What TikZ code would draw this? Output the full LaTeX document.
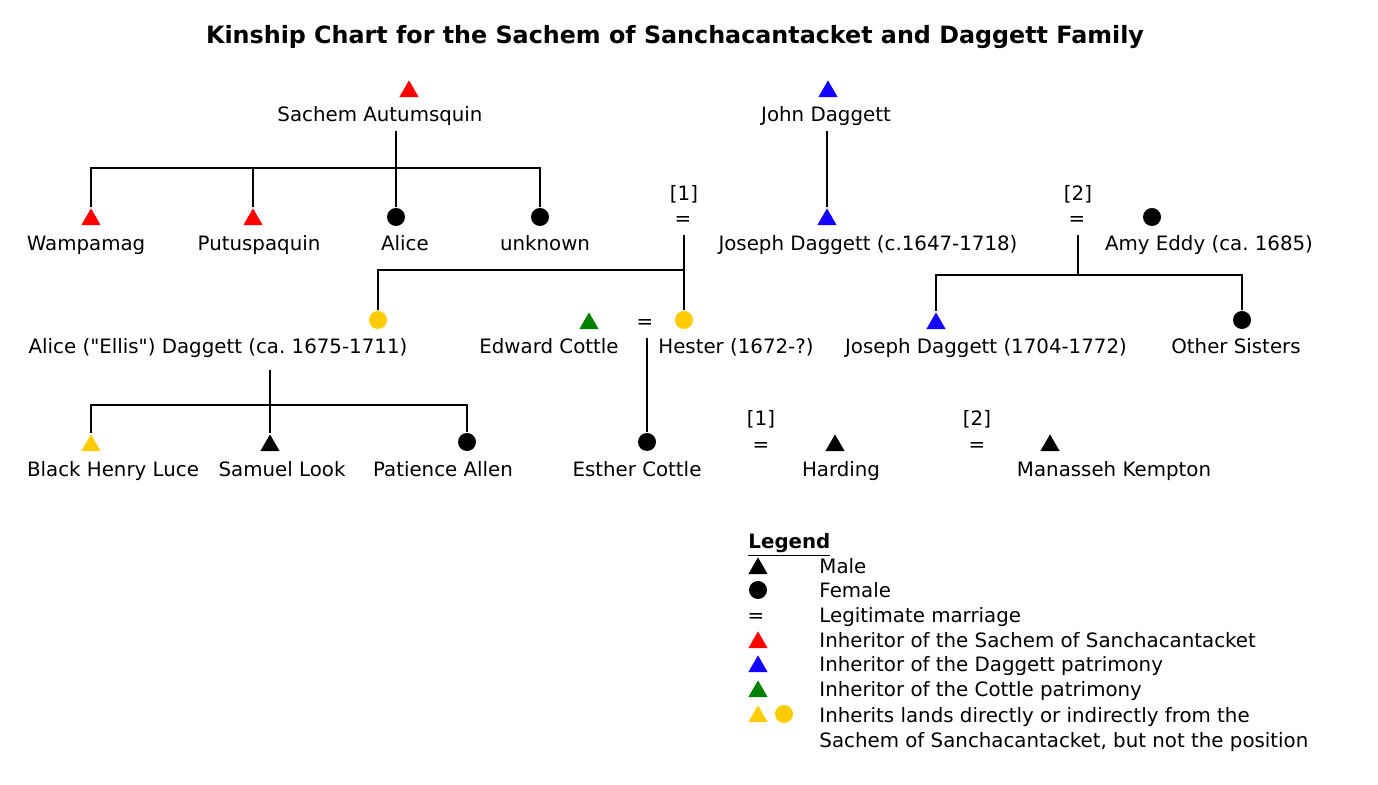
\documentclass[tikz,border=0pt]{standalone}
\usepackage{fontspec}
\newfontfamily\chartfont{DejaVu Sans}
\usetikzlibrary{shapes.geometric}
\definecolor{sachemred}{RGB}{255,0,0}
\definecolor{dagblue}{RGB}{20,0,255}
\definecolor{cottlegreen}{RGB}{0,128,0}
\definecolor{landgold}{RGB}{255,204,0}
\frenchspacing
\begin{document}
\begin{tikzpicture}[x=0.5pt,y=-0.5pt,thick,
    every node/.style={font=\chartfont\fontsize{9.9}{12.5}\selectfont,text height=8.3pt,text depth=0.9pt},
    male/.style={regular polygon,regular polygon sides=3,fill=#1,inner sep=0pt,
                 text height=0pt,text depth=0pt,minimum size=11.2pt,yshift=-1.3pt},
    male/.default=black,
    female/.style={circle,fill=#1,inner sep=0pt,text height=0pt,text depth=0pt,
                   minimum size=9pt},
    female/.default=black
   ]
  \useasboundingbox (0,0) rectangle (1378,785);
  \node[font=\chartfont\bfseries\fontsize{11.9}{14}\selectfont] (title) at (675,36)
     {Kinship Chart for the Sachem of Sanchacantacket and Daggett Family};
  % first generation
  \node[male=sachemred] (sachem) at (409,89) {};
  \node (sachemname) at (380,114) {Sachem Autumsquin};
  \node[male=dagblue] (john) at (828,89) {};
  \node (johnname) at (826,114) {John Daggett};
  % second generation
  \node[male=sachemred] (wampamag) at (91,217) {};
  \node (wampamagname) at (86,243) {Wampamag};
  \node[male=sachemred] (putuspaquin) at (253,217) {};
  \node (putuspaquinname) at (259,243) {Putuspaquin};
  \node[female] (alice) at (396,217) {};
  \node (alicename) at (405,243) {Alice};
  \node[female] (unknown) at (540,217) {};
  \node (unknownname) at (545,243) {unknown};
  \node (m1) at (684,193) {[1]};
  \node (eq1) at (683,218) {=};
  \node[male=dagblue] (joseph) at (827,217) {};
  \node (josephname) at (868,243) {Joseph Daggett (c.1647-1718)};
  \node (m2) at (1078,193) {[2]};
  \node (eq2) at (1077,218) {=};
  \node[female] (amy) at (1152,217) {};
  \node (amyname) at (1209,243) {Amy Eddy (ca. 1685)};
  % third generation
  \node[female=landgold] (ellis) at (378,320) {};
  \node (ellisname) at (218,346) {Alice ("Ellis") Daggett (ca. 1675-1711)};
  \node[male=cottlegreen] (edward) at (589,321) {};
  \node (edwardname) at (549,346) {Edward Cottle};
  \node (eq3) at (645,321) {=};
  \node[female=landgold] (hester) at (684,320) {};
  \node (hestername) at (736,346) {Hester (1672-?)};
  \node[male=dagblue] (josephjr) at (936,321) {};
  \node (josephjrname) at (986,346) {Joseph Daggett (1704-1772)};
  \node[female] (sisters) at (1242,320) {};
  \node (sistersname) at (1236,346) {Other Sisters};
  % fourth generation
  \node[male=landgold] (henry) at (91,443) {};
  \node (henryname) at (113,469) {Black Henry Luce};
  \node[male] (samuel) at (270,443) {};
  \node (samuelname) at (282,469) {Samuel Look};
  \node[female] (patience) at (467,442) {};
  \node (patiencename) at (443,469) {Patience Allen};
  \node[female] (esther) at (647,442) {};
  \node (esthername) at (637,469) {Esther Cottle};
  \node (m3) at (761,418) {[1]};
  \node (eq4) at (761,444) {=};
  \node[male] (harding) at (835,443) {};
  \node (hardingname) at (841,469) {Harding};
  \node (m4) at (977,418) {[2]};
  \node (eq5) at (977,444) {=};
  \node[male] (manasseh) at (1050,443) {};
  \node (manassehname) at (1114,469) {Manasseh Kempton};
  % descent lines
  \coordinate (bar1) at (396,168);
  \coordinate (bar2) at (683,270);
  \coordinate (bar3) at (1078,275);
  \coordinate (ellisdrop) at (270,370);
  \coordinate (bar4) at (270,405);
  \draw (alice.north) -- (alice.north |- sachemname.south);
  \draw (wampamag.north) |- (bar1) -| (unknown.north);
  \draw (putuspaquin.north) -- (putuspaquin.north |- bar1);
  \draw (joseph.north) -- (joseph.north |- johnname.south);
  \draw (hester.north) -- (hester.north |- eq1.south);
  \draw (ellis.north) |- (bar2);
  \draw (bar3 |- eq2.south) -- (bar3);
  \draw (josephjr.north) |- (bar3) -| (sisters.north);
  \draw (esther.north) -- (esther.north |- eq3.south);
  \draw (ellisdrop) -- (samuel.north);
  \draw (henry.north) |- (bar4) -| (patience.north);
  % legend
  \node[anchor=west] (legend) at (741,541) {\bfseries\underline{Legend}};
  \node[male] (keymale) at (758,566) {};
  \node[anchor=west] (keymaletext) at (812,566) {Male};
  \node[female] (keyfemale) at (758,590) {};
  \node[anchor=west] (keyfemaletext) at (812,590) {Female};
  \node (keyeq) at (756,615) {=};
  \node[anchor=west] (keyeqtext) at (812,615) {Legitimate marriage};
  \node[male=sachemred] (keyred) at (758,640) {};
  \node[anchor=west] (keyredtext) at (812,640) {Inheritor of the Sachem of Sanchacantacket};
  \node[male=dagblue] (keyblue) at (758,664) {};
  \node[anchor=west] (keybluetext) at (812,664) {Inheritor of the Daggett patrimony};
  \node[male=cottlegreen] (keygreen) at (758,689) {};
  \node[anchor=west] (keygreentext) at (812,689) {Inheritor of the Cottle patrimony};
  \node[male=landgold] (keygoldm) at (758,714) {};
  \node[female=landgold] (keygoldf) at (784,714) {};
  \node[anchor=north west,align=left,text height=,text depth=] (keygoldtext) at (812,700)
     {Inherits lands directly or indirectly from the\\Sachem of Sanchacantacket, but not the position};
\end{tikzpicture}
\end{document}
